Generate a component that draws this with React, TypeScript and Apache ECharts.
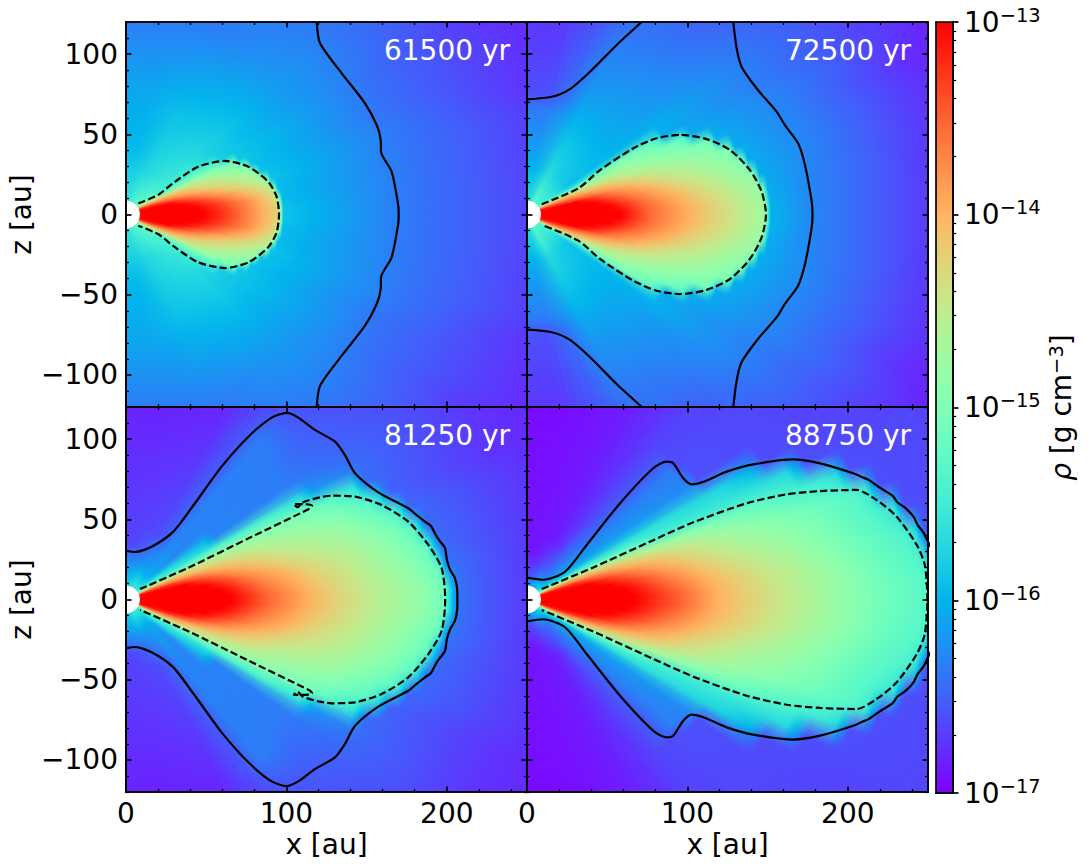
import { useEffect, useRef } from "react";
import * as echarts from "echarts";

// angular edges of the wedges, degrees from the midplane
const thetaEdges = [0, 4, 8, 12, 16, 20, 24, 28, 32, 38, 45, 55, 70, 90];

// log10 density along each wedge: [radius in au, log10 rho]
const rho61500 = [
  [[10,-13],[48,-13],[62,-13.3],[78,-13.75],[93,-14.2],[96,-14.4],[98,-15.9],[170,-16.35],[250,-16.65],[280,-16.75]],
  [[10,-13],[44,-13],[60,-13.35],[78,-13.8],[92,-14.25],[95,-14.6],[98,-15.95],[170,-16.35],[250,-16.65],[280,-16.75]],
  [[10,-13],[36,-13],[55,-13.5],[75,-14],[90,-14.4],[93,-14.6],[96,-15.95],[170,-16.35],[250,-16.65],[280,-16.75]],
  [[10,-13],[27,-13],[45,-13.6],[65,-14.15],[86,-14.6],[90,-14.75],[93,-15.9],[170,-16.35],[250,-16.65],[280,-16.75]],
  [[10,-13.1],[20,-13.2],[35,-13.7],[55,-14.25],[80,-14.7],[85,-14.85],[88,-15.9],[170,-16.35],[250,-16.7],[280,-16.8]],
  [[10,-13.3],[25,-13.8],[45,-14.3],[76,-14.9],[81,-15],[84,-15.9],[170,-16.4],[250,-16.7],[280,-16.8]],
  [[10,-13.7],[20,-14.2],[40,-14.6],[70,-15.05],[75,-15.1],[78,-15.85],[170,-16.4],[250,-16.7],[280,-16.8]],
  [[10,-14.4],[22,-14.8],[24,-15.2],[50,-15.2],[64,-15.35],[68,-15.8],[170,-16.4],[250,-16.75],[280,-16.85]],
  [[10,-15],[25,-15.45],[50,-15.55],[60,-15.75],[120,-16.15],[200,-16.5],[280,-16.8]],
  [[10,-15.3],[40,-15.6],[70,-15.8],[120,-16.15],[200,-16.5],[280,-16.8]],
  [[10,-15.3],[30,-15.6],[70,-15.85],[130,-16.25],[200,-16.5]],
  [[10,-15.4],[30,-15.7],[70,-15.9],[130,-16.35]],
  [[10,-15.6],[40,-15.95],[80,-16.1],[130,-16.4]],
];
const rho72500 = [
  [[10,-13],[58,-13],[77,-13.55],[108,-14.1],[140,-14.6],[148,-14.75],[152,-16],[178,-16.3],[250,-16.7],[280,-16.8]],
  [[10,-13],[52,-13],[75,-13.6],[105,-14.15],[138,-14.65],[147,-14.8],[151,-16.05],[178,-16.3],[250,-16.7],[280,-16.8]],
  [[10,-13],[42,-13],[65,-13.6],[100,-14.25],[130,-14.7],[143,-14.85],[147,-16.05],[180,-16.3],[250,-16.7],[280,-16.8]],
  [[10,-13],[32,-13],[55,-13.65],[90,-14.35],[125,-14.8],[138,-14.95],[142,-16.05],[180,-16.3],[250,-16.7],[280,-16.8]],
  [[10,-13.1],[22,-13.3],[45,-13.8],[80,-14.45],[115,-14.85],[132,-15],[136,-16.05],[185,-16.35],[250,-16.7],[280,-16.85]],
  [[10,-13.4],[20,-13.7],[40,-14.1],[70,-14.6],[105,-14.95],[122,-15.1],[127,-16.05],[190,-16.4],[250,-16.75],[280,-16.85]],
  [[10,-13.9],[25,-14.3],[35,-14.55],[70,-14.8],[100,-15.1],[108,-15.3],[114,-16.05],[200,-16.45],[280,-16.85]],
  [[10,-14.8],[35,-15.5],[45,-15.2],[70,-15],[88,-15.2],[94,-15.5],[98,-16.05],[200,-16.5],[280,-16.85]],
  [[10,-15.3],[30,-15.9],[70,-16],[100,-16.05],[200,-16.5],[280,-16.85]],
  [[10,-15.4],[30,-15.85],[70,-16.05],[120,-16.25],[200,-16.55]],
  [[10,-15.4],[30,-15.8],[70,-16.05],[120,-16.3],[170,-16.55]],
  [[10,-15.3],[30,-15.7],[60,-15.95],[90,-16.2],[130,-16.4]],
  [[10,-15.7],[35,-16.1],[65,-16.35],[76,-16.6],[130,-16.75]],
];
const rho81250 = [
  [[10,-13],[65,-13],[90,-13.55],[121,-14.1],[152,-14.5],[183,-14.85],[198,-15.1],[200,-15.4],[204,-16],[207,-16.4],[225,-16.55],[250,-16.7],[280,-16.8]],
  [[10,-13],[60,-13],[85,-13.6],[118,-14.15],[150,-14.55],[180,-14.9],[195,-15.15],[197,-15.45],[200,-16.1],[203,-16.4],[225,-16.55],[250,-16.7],[280,-16.8]],
  [[10,-13],[50,-13],[80,-13.7],[115,-14.25],[148,-14.6],[175,-14.95],[190,-15.2],[192,-15.5],[196,-16],[199,-16.45],[250,-16.7],[280,-16.8]],
  [[10,-13],[38,-13],[70,-13.8],[105,-14.35],[145,-14.7],[170,-15],[184,-15.25],[186,-15.5],[190,-16],[193,-16.45],[250,-16.7],[280,-16.8]],
  [[10,-13.05],[28,-13.2],[60,-13.95],[100,-14.5],[140,-14.8],[170,-15.2],[176,-15.35],[180,-15.7],[183,-16.1],[185,-16.45],[250,-16.7],[280,-16.8]],
  [[10,-13.4],[25,-13.7],[55,-14.25],[100,-14.7],[140,-15],[162,-15.3],[170,-15.7],[175,-16.3],[178,-16.5],[250,-16.75],[280,-16.8]],
  [[10,-14.1],[30,-14.4],[80,-14.85],[130,-15.1],[143,-15.3],[158,-15.6],[164,-16.2],[167,-16.45],[250,-16.75],[280,-16.8]],
  [[10,-15],[30,-15.35],[60,-15.35],[100,-15.4],[125,-15.6],[135,-16.15],[170,-16.45],[250,-16.75],[280,-16.8]],
  [[10,-15.4],[30,-15.65],[60,-15.9],[68,-16.3],[120,-16.35],[170,-16.5],[280,-16.8]],
  [[10,-15.6],[25,-16.1],[40,-16.3],[120,-16.35],[150,-16.5],[280,-16.85]],
  [[10,-15.6],[20,-16.1],[50,-16.3],[130,-16.35],[150,-16.55],[280,-16.85]],
  [[10,-15.6],[25,-16.2],[45,-16.6],[130,-16.8]],
  [[10,-15.8],[25,-16.3],[35,-16.65],[130,-16.85]],
];
const rho88750 = [
  [[10,-13],[67,-13],[95,-13.5],[120,-14],[145,-14.3],[183,-14.7],[220,-15.1],[250,-15.3],[280,-15.5]],
  [[10,-13],[62,-13],[90,-13.55],[118,-14.05],[145,-14.35],[183,-14.75],[220,-15.15],[245,-15.35],[249,-15.55],[252,-16.1],[254,-16.45],[256,-16.6],[280,-16.7]],
  [[10,-13],[52,-13],[85,-13.65],[115,-14.15],[145,-14.5],[180,-14.85],[215,-15.2],[240,-15.4],[246,-15.7],[249,-16.2],[251,-16.45],[253,-16.6],[280,-16.65]],
  [[10,-13],[40,-13],[75,-13.75],[110,-14.3],[140,-14.65],[180,-14.95],[225,-15.4],[236,-15.6],[239,-16.1],[241,-16.4],[243,-16.6],[280,-16.65]],
  [[10,-13.05],[30,-13.2],[65,-13.95],[105,-14.45],[140,-14.8],[180,-15.1],[215,-15.35],[222,-15.5],[226,-16],[229,-16.35],[231,-16.6],[280,-16.65]],
  [[10,-13.5],[28,-13.75],[60,-14.3],[100,-14.8],[140,-15.1],[172,-15.35],[200,-15.55],[208,-15.7],[212,-16.1],[215,-16.4],[217,-16.6],[280,-16.65]],
  [[10,-14.3],[30,-14.6],[46,-14.9],[70,-15.15],[90,-15.45],[150,-15.6],[180,-15.7],[187,-16.1],[191,-16.4],[193,-16.6],[280,-16.65]],
  [[10,-15.1],[30,-15.5],[60,-15.6],[100,-15.65],[140,-15.75],[160,-16],[167,-16.35],[170,-16.6],[280,-16.7]],
  [[10,-15.5],[25,-16],[40,-16.1],[90,-16.2],[126,-16.3],[130,-16.6],[280,-16.7]],
  [[10,-15.8],[20,-16.2],[50,-16.3],[120,-16.35],[125,-16.6],[280,-16.7]],
  [[10,-15.9],[20,-16.4],[60,-16.6],[280,-16.75]],
  [[10,-16],[20,-16.5],[40,-16.85],[130,-16.85]],
  [[10,-16.2],[15,-16.6],[30,-16.9],[130,-16.95]],
];

// contours, upper half only where the lower half is its mirror image
const solid61500 = [[118.9,120],[121,106.7],[134.5,88],[149,69.3],[156.3,55.8],[158.8,46.4],[159,39],[165.6,26.7],[169.7,5.9],[170,0]];
const dashed61500 = [[7.7,7],[20,12.2],[30.5,20.4],[45,29.8],[61.7,33.4],[76.3,29.8],[88.7,20.4],[93.9,11.1],[95.4,0]];
const solid72500 = [[128.6,120],[130.7,103.6],[133.8,92],[144,77.6],[155.7,64],[160.8,55.7],[169,44.4],[173.3,30.9],[177.5,8],[178,0]];
const solidLeft72500 = [[0,71.8],[15.4,73.4],[26.8,78.2],[39.3,89],[55.9,105.7],[71.5,120]];
const dashed72500 = [[9.2,6.4],[32,16.3],[45.5,27.7],[66.3,41.3],[80.8,47.5],[95.4,49.6],[112,47],[126.6,40.2],[139,27.7],[146.3,14.2],[149,0]];
const solid81250 = [[0,30.4],[5.6,29.6],[16,32.9],[29.5,42.3],[43,60],[59.6,82.8],[76.3,101.5],[90.8,113.4],[100.2,116.3],[107.4,113.4],[117.8,105.7],[130.3,98.4],[136.5,90],[142.8,78.7],[157.3,66.8],[176,56.9],[181,52.8],[186.4,48.5],[190,46],[193.7,39.2],[196,36],[198.9,32.1],[200,25],[202,18.6],[205,13.4],[206.5,6],[206.6,0]];
const dashed81250 = [[8.7,6.5],[38.8,19.8],[76.3,38.1],[114.7,56.8],[116,58.5],[111,59.5],[104.5,59.5],[107,57.5],[110,60.5],[120,63.5],[128.2,64.7],[142.8,64.1],[159.4,58.9],[176,48.5],[188.5,34],[196.8,19.5],[199,0]];
const solid88750 = [[0,13.6],[10.2,12.3],[23.7,17.3],[37.2,34],[58,60],[78.7,81.8],[87,85.9],[91.2,84.9],[97.4,75.6],[102.7,71.8],[110,73.4],[124.5,79.7],[141,84.2],[166,87.3],[182.7,84.9],[203.4,78.7],[209,76.2],[213,74.6],[219,70.4],[224,67.2],[228,64.6],[231,60.5],[236,57],[241,51.6],[243.5,46.5],[247,42],[250,36],[255,25],[258,0]];
const dashed88750 = [[9.2,6.5],[41.3,20],[78.7,37],[103.7,48.1],[137,60],[162,65.6],[182.7,67.6],[205.5,68.3],[218,62],[230.5,51.6],[243,34],[248,21.5],[249.6,0]];

// tick positions
const xMajor = [0, 100, 200];
const xMinor = [20, 40, 60, 80, 120, 140, 160, 180, 220, 240];
const zMajor = [-100, -50, 0, 50, 100];
const zMinor = [-120,-110,-90,-80,-70,-60,-40,-30,-20,-10,10,20,30,40,60,70,80,90,110,120];
const barMajor = [-17, -16, -15, -14, -13];
const barMinor = [
  -16.699,-16.523,-16.398,-16.301,-16.222,-16.155,-16.097,-16.046,
  -15.699,-15.523,-15.398,-15.301,-15.222,-15.155,-15.097,-15.046,
  -14.699,-14.523,-14.398,-14.301,-14.222,-14.155,-14.097,-14.046,
  -13.699,-13.523,-13.398,-13.301,-13.222,-13.155,-13.097,-13.046,
];

const FONT = "DejaVu Sans";
const FONT_SIZE = 28;
const RMAX = 300;
const BLEND_STEPS = 4;

const panels = [
  { label: "61500 yr", rho: rho61500, left: 126, top: 22, full: [solid61500], dash: [dashed61500], open: [] },
  { label: "72500 yr", rho: rho72500, left: 527, top: 22, full: [solid72500], dash: [dashed72500], open: [solidLeft72500] },
  { label: "81250 yr", rho: rho81250, left: 126, top: 407, full: [solid81250], dash: [dashed81250], open: [] },
  { label: "88750 yr", rho: rho88750, left: 527, top: 407, full: [solid88750], dash: [dashed88750], open: [] },
];

// matplotlib's rainbow colormap over log10 rho from -17 to -13
function rainbow(v: number) {
  const t = Math.min(1, Math.max(0, (v + 17) / 4));
  const r = Math.min(1, Math.abs(2 * t - 0.5));
  const g = Math.sin(Math.PI * t);
  const b = Math.cos((Math.PI * t) / 2);
  return `rgb(${Math.round(r * 255)},${Math.round(g * 255)},${Math.round(b * 255)})`;
}

function gradientStops(profile: number[][]) {
  const stops: { offset: number; color: string }[] = [];
  for (let i = 0; i < profile.length - 1; i++) {
    const [r0, v0] = profile[i];
    const [r1, v1] = profile[i + 1];
    for (let k = 0; k < 4; k++) {
      const f = k / 4;
      stops.push({ offset: (r0 + (r1 - r0) * f) / RMAX, color: rainbow(v0 + (v1 - v0) * f) });
    }
  }
  const last = profile[profile.length - 1];
  stops.push({ offset: last[0] / RMAX, color: rainbow(last[1]) });
  return stops;
}

function mirror(points: number[][]) {
  const lower = points.slice().reverse().map((p) => [p[0], -p[1]]);
  return points.concat(lower.slice(1));
}

function flip(points: number[][]) {
  return points.map((p) => [p[0], -p[1]]);
}

// one item per drawn wedge: [profile index, side, from angle, to angle, opacity]
// an underlay closes the seams, then the exact wedges, then thin bands that fade
// each profile into its neighbour
function wedgeItems(count: number) {
  const items: number[][] = [];
  for (const side of [1, -1]) {
    for (let w = 0; w < count; w++) items.push([w, side, thetaEdges[w] - 0.5, thetaEdges[w + 1] + 0.5, 1]);
  }
  for (const side of [1, -1]) {
    for (let w = 0; w < count; w++) items.push([w, side, w === 0 ? -0.2 : thetaEdges[w], thetaEdges[w + 1], 1]);
    for (let w = 0; w < count; w++) {
      const a0 = thetaEdges[w];
      const a1 = thetaEdges[w + 1];
      const mid = (a0 + a1) / 2;
      for (let k = 0; k < BLEND_STEPS; k++) {
        const opacity = (k + 0.5) / BLEND_STEPS / 2;
        const inner = k / BLEND_STEPS;
        const outer = (k + 1) / BLEND_STEPS;
        if (w + 1 < count) items.push([w + 1, side, mid + (a1 - mid) * inner, mid + (a1 - mid) * outer, opacity]);
        if (w > 0) items.push([w - 1, side, mid + (a0 - mid) * outer, mid + (a0 - mid) * inner, opacity]);
      }
    }
  }
  items.push([-1, 0, 0, 0, 1]);
  return items;
}

export default function App() {
  const chartRef = useRef<HTMLDivElement>(null);

  useEffect(() => {
    if (!chartRef.current) return;
    const chart = echarts.init(chartRef.current, null, { renderer: "svg" });

    const grid: any[] = [];
    const xAxis: any[] = [];
    const yAxis: any[] = [];
    const series: any[] = [];
    const graphic: any[] = [];

    const line = { show: true, onZero: false, lineStyle: { color: "#000", width: 1.7 } };

    panels.forEach((p) => {
      const isLeft = p.left === 126;
      const isBottom = p.top === 407;
      const rect = { left: p.left, top: p.top, width: 401, height: 385 };
      const gridMajor = grid.length;
      grid.push(rect, rect);
      const xBase = { type: "value", min: 0, max: 250, z: 10, axisLine: line, splitLine: { show: false } };
      const zBase = { type: "value", min: -120, max: 120, z: 10, axisLine: line, splitLine: { show: false } };
      const majorTick = { show: true, inside: true, length: 5.5, lineStyle: { color: "#000", width: 1.7 } };
      const minorTick = { show: true, inside: true, length: 3, lineStyle: { color: "#000", width: 1.3 } };

      const xIndex = xAxis.length;
      const zIndex = yAxis.length;
      xAxis.push(
        {
          ...xBase,
          gridIndex: gridMajor,
          position: "bottom",
          axisTick: { ...majorTick, customValues: xMajor },
          axisLabel: isBottom
            ? { show: true, customValues: xMajor, fontFamily: FONT, fontSize: FONT_SIZE, color: "#000", margin: 7 }
            : { show: false },
          name: isBottom ? "x [au]" : "",
          nameLocation: "middle",
          nameGap: 38,
          nameTextStyle: { fontFamily: FONT, fontSize: FONT_SIZE, color: "#000" },
        },
        { ...xBase, gridIndex: gridMajor, position: "top", axisTick: { ...majorTick, customValues: xMajor }, axisLabel: { show: false } },
        { ...xBase, gridIndex: gridMajor + 1, position: "bottom", axisTick: { ...minorTick, customValues: xMinor }, axisLabel: { show: false } },
        { ...xBase, gridIndex: gridMajor + 1, position: "top", axisTick: { ...minorTick, customValues: xMinor }, axisLabel: { show: false } }
      );
      yAxis.push(
        {
          ...zBase,
          gridIndex: gridMajor,
          position: "left",
          axisTick: { ...majorTick, customValues: zMajor },
          axisLabel: isLeft
            ? {
                show: true,
                customValues: zMajor,
                fontFamily: FONT,
                fontSize: FONT_SIZE,
                color: "#000",
                margin: 8,
                formatter: (v: number) => (v < 0 ? "\u2212" + Math.abs(v) : String(v)),
              }
            : { show: false },
          name: isLeft ? "z [au]" : "",
          nameLocation: "middle",
          nameGap: 91,
          nameRotate: 90,
          nameTextStyle: { fontFamily: FONT, fontSize: FONT_SIZE, color: "#000" },
        },
        { ...zBase, gridIndex: gridMajor, position: "right", axisTick: { ...majorTick, customValues: zMajor }, axisLabel: { show: false } },
        { ...zBase, gridIndex: gridMajor + 1, position: "left", axisTick: { ...minorTick, customValues: zMinor }, axisLabel: { show: false } },
        { ...zBase, gridIndex: gridMajor + 1, position: "right", axisTick: { ...minorTick, customValues: zMinor }, axisLabel: { show: false } }
      );

      series.push({
        type: "custom",
        xAxisIndex: xIndex,
        yAxisIndex: zIndex,
        coordinateSystem: "cartesian2d",
        clip: true,
        silent: true,
        z: 2,
        encode: { x: 2, y: 3 },
        data: wedgeItems(p.rho.length),
        renderItem: (params: any, api: any) => {
          const w = api.value(0);
          const side = api.value(1);
          const [cx, cy] = api.coord([0, 0]);
          if (w < 0) {
            return { type: "circle", shape: { cx, cy, r: api.size([8.7, 0])[0] }, style: { fill: "#fff" }, z2: 3000 };
          }
          const a0 = api.value(2);
          const a1 = api.value(3);
          const points = [[0, a0], [RMAX, a0], [RMAX, (a0 + a1) / 2], [RMAX, a1]].map(([r, a]) => {
            const rad = (a * Math.PI) / 180;
            return api.coord([r * Math.cos(rad), side * r * Math.sin(rad)]);
          });
          const fill = new echarts.graphic.RadialGradient(cx, cy, api.size([RMAX, 0])[0], gradientStops(p.rho[w]), true);
          return { type: "polygon", shape: { points }, style: { fill, opacity: api.value(4) }, z2: params.dataIndex };
        },
      });

      const contour = (data: number[][], dashed: boolean) => ({
        type: "line",
        xAxisIndex: xIndex,
        yAxisIndex: zIndex,
        data,
        smooth: 0.25,
        showSymbol: false,
        silent: true,
        z: 6,
        lineStyle: { color: "#000", width: 2.2, type: dashed ? [7.4, 3.2] : "solid" },
      });
      p.full.forEach((c) => series.push(contour(mirror(c), false)));
      p.dash.forEach((c) => series.push(contour(mirror(c), true)));
      p.open.forEach((c) => series.push(contour(c, false), contour(flip(c), false)));

      graphic.push({
        type: "text",
        x: p.left + 384,
        y: p.top + 28,
        z: 20,
        style: { text: p.label, fill: "#fff", font: `${FONT_SIZE}px "${FONT}"`, align: "right", verticalAlign: "middle" },
      });
    });

    // colour bar
    const barRect = { left: 936, top: 22, width: 17, height: 771 };
    const barGrid = grid.length;
    grid.push(barRect, barRect);
    const barX = xAxis.length;
    const barY = yAxis.length;
    const barXBase = { type: "value", min: 0, max: 1, z: 10, axisLine: line, axisTick: { show: false }, axisLabel: { show: false }, splitLine: { show: false } };
    const barYBase = { type: "value", min: -17, max: -13, z: 10, axisLine: line, splitLine: { show: false } };
    xAxis.push(
      { ...barXBase, gridIndex: barGrid, position: "bottom" },
      { ...barXBase, gridIndex: barGrid, position: "top" },
      { ...barXBase, gridIndex: barGrid + 1, position: "bottom" }
    );
    yAxis.push(
      {
        ...barYBase,
        gridIndex: barGrid,
        position: "right",
        axisTick: { show: true, length: 5.5, lineStyle: { color: "#000", width: 1.7 }, customValues: barMajor },
        axisLabel: {
          show: true,
          customValues: barMajor,
          margin: 11,
          fontFamily: FONT,
          fontSize: FONT_SIZE,
          color: "#000",
          formatter: (v: number) => `10{s|\u2212${Math.abs(v)}}`,
          rich: { s: { fontFamily: FONT, fontSize: 19.5, color: "#000", verticalAlign: "bottom", padding: [0, 0, 14, 0] } },
        },
        name: "{i|\u03c1} [g cm{s|\u22123}]",
        nameLocation: "middle",
        nameRotate: 90,
        nameGap: 93,
        nameTextStyle: {
          fontFamily: FONT,
          fontSize: FONT_SIZE,
          color: "#000",
          rich: {
            i: { fontFamily: FONT, fontSize: FONT_SIZE, fontStyle: "italic", color: "#000" },
            s: { fontFamily: FONT, fontSize: 19.5, color: "#000", verticalAlign: "bottom", padding: [0, 0, 11, 0] },
          },
        },
      },
      { ...barYBase, gridIndex: barGrid, position: "left", axisTick: { show: false }, axisLabel: { show: false } },
      {
        ...barYBase,
        gridIndex: barGrid + 1,
        position: "right",
        axisTick: { show: true, length: 3.2, lineStyle: { color: "#000", width: 1.2 }, customValues: barMinor },
        axisLabel: { show: false },
      }
    );
    const barStops = [];
    for (let k = 0; k <= 40; k++) barStops.push({ offset: k / 40, color: rainbow(-13 - k / 10) });
    series.push({
      type: "custom",
      xAxisIndex: barX,
      yAxisIndex: barY,
      coordinateSystem: "cartesian2d",
      silent: true,
      z: 2,
      data: [[0, -17, 1, -13]],
      renderItem: (_params: any, api: any) => {
        const a = api.coord([api.value(0), api.value(3)]);
        const b = api.coord([api.value(2), api.value(1)]);
        return {
          type: "rect",
          shape: { x: a[0], y: a[1], width: b[0] - a[0], height: b[1] - a[1] },
          style: { fill: new echarts.graphic.LinearGradient(0, 0, 0, 1, barStops) },
        };
      },
    });

    chart.setOption({ animation: false, grid, xAxis, yAxis, series, graphic });

    return () => chart.dispose();
  }, []);

  return <div ref={chartRef} style={{ position: "absolute", left: 0, top: 0, width: 1091, height: 868 }} />;
}
